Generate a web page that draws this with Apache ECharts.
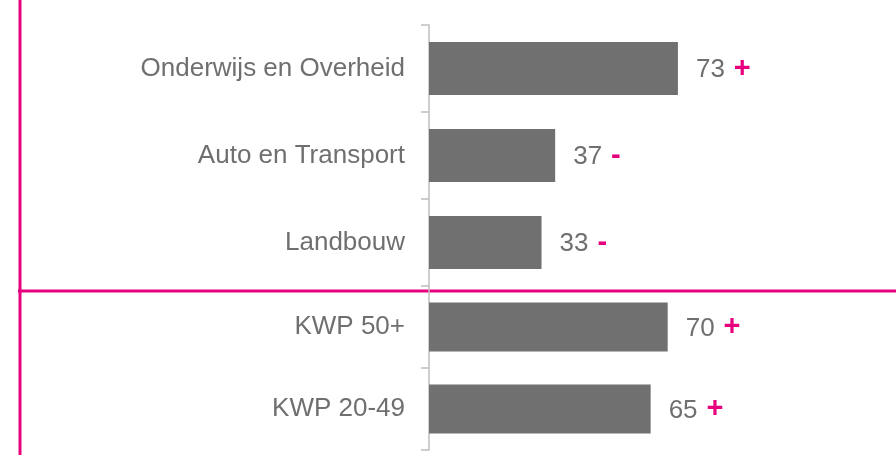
<!DOCTYPE html>
<html>
<head>
<meta charset="utf-8">
<script src="https://cdn.jsdelivr.net/npm/echarts@6/dist/echarts.min.js"></script>
<style>
  html, body { margin: 0; padding: 0; background: #fff; }
  #main { width: 896px; height: 455px; }
</style>
</head>
<body>
<div id="main"></div>
<script>
// bovenste blok: sectoren
const topCategories = ['Onderwijs en Overheid', 'Auto en Transport', 'Landbouw'];
const topValues = [73, 37, 33];
const topSigns = ['+', '-', '-'];
// onderste blok: bedrijfsgrootte
const bottomCategories = ['KWP 50+', 'KWP 20-49'];
const bottomValues = [70, 65];
const bottomSigns = ['+', '+'];

const gray = '#707070';
const textGray = '#6f6f6f';
const magenta = '#e6007e';

const chart = echarts.init(document.getElementById('main'), null, { renderer: 'canvas' });

function makeLabel(signs) {
  return {
    show: true,
    position: 'right',
    distance: 18,
    formatter: function (p) {
      return '{v|' + p.value + '}{s|' + signs[p.dataIndex] + '}';
    },
    rich: {
      v: { fontFamily: 'Liberation Sans', fontSize: 26, color: textGray, padding: [3, 0, 0, 0] },
      s: { fontFamily: 'Liberation Sans', fontSize: 29, fontWeight: 'bold', color: magenta, padding: [0, 0, 0, 9] }
    }
  };
}

function makeYAxis(gridIndex, cats) {
  return {
    type: 'category',
    gridIndex: gridIndex,
    inverse: true,
    data: cats,
    axisLine: { show: true, lineStyle: { color: '#bfbfbf', width: 1.5 } },
    axisTick: { show: true, length: 8, lineStyle: { color: '#bfbfbf', width: 1.5 } },
    axisLabel: {
      margin: 24,
      fontFamily: 'Liberation Sans',
      fontSize: 26,
      color: textGray,
      padding: [4, 0, 0, 0]
    }
  };
}

function makeXAxis(gridIndex) {
  return {
    type: 'value',
    gridIndex: gridIndex,
    min: 0,
    max: 100,
    show: false
  };
}

chart.setOption({
  backgroundColor: '#fff',
  animation: false,
  grid: [
    { left: 429, top: 25, width: 341, height: 261 },
    { left: 429, top: 286, width: 341, height: 164 }
  ],
  xAxis: [makeXAxis(0), makeXAxis(1)],
  yAxis: [makeYAxis(0, topCategories), makeYAxis(1, bottomCategories)],
  series: [
    {
      type: 'bar',
      xAxisIndex: 0,
      yAxisIndex: 0,
      data: topValues,
      barWidth: '61%',
      itemStyle: { color: gray },
      label: makeLabel(topSigns)
    },
    {
      type: 'bar',
      xAxisIndex: 1,
      yAxisIndex: 1,
      data: bottomValues,
      barWidth: '60%',
      itemStyle: { color: gray },
      label: makeLabel(bottomSigns)
    }
  ],
  // magenta kaderlijnen
  graphic: [
    {
      type: 'line',
      shape: { x1: 20, y1: 0, x2: 20, y2: 455 },
      style: { stroke: magenta, lineWidth: 3 }
    },
    {
      type: 'line',
      shape: { x1: 18, y1: 291, x2: 896, y2: 291 },
      style: { stroke: magenta, lineWidth: 3 }
    }
  ]
});
</script>
</body>
</html>
